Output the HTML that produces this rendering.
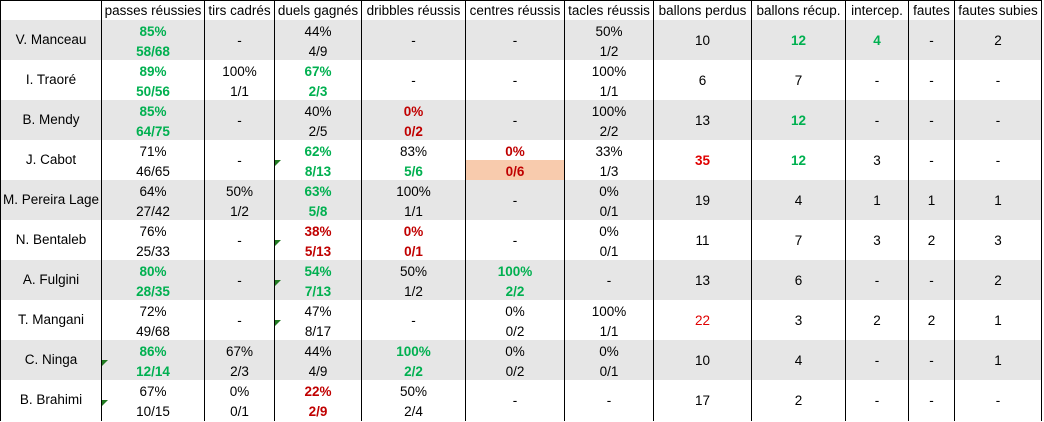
<!DOCTYPE html>
<html><head><meta charset="utf-8">
<style>
html,body{margin:0;padding:0;background:#fff;}
body{width:1044px;height:421px;position:relative;overflow:hidden;font-family:"Liberation Sans",Arial,sans-serif;font-size:13.5px;color:#000;}
.row{position:absolute;left:0;width:1042px;height:40px;}
.gr{background:#e6e6e6;}
.c{position:absolute;text-align:center;line-height:20px;height:20px;white-space:nowrap;}
.t1{top:2px}.t2{top:22px}.t0{top:11px}.tn{top:10px}
.c0{left:1px;width:100px}.c1{left:102px;width:102px}.c2{left:205px;width:69px}.c3{left:275px;width:86px}
.c4{left:362px;width:103px}.c5{left:466px;width:98px}.c6{left:565px;width:88px}.c7{left:654px;width:97px}
.c8{left:752px;width:93px}.c9{left:846px;width:62px}.c10{left:909px;width:45px}.c11{left:955px;width:86px}
.g{color:#00b050;font-weight:bold}
.r{color:#c00000;font-weight:bold}
.rr{color:#e00000;font-weight:bold}
.vl{position:absolute;top:0;width:1px;height:421px;background:#000;z-index:5}
.hl{position:absolute;left:0;top:0;width:1042px;height:1px;background:#000;z-index:5}
.tri{position:absolute;width:0;height:0;border-top:6px solid #217a21;border-right:6px solid transparent;z-index:6}
.or{position:absolute;left:466px;top:20px;width:98px;height:20px;background:#f8cbad}
.hd{position:absolute;top:0;left:0;width:1042px;height:20px;}
.hd .c{top:1px}
</style></head><body>

<div class="hd">
<div class="c c1">passes réussies</div>
<div class="c c2">tirs cadrés</div>
<div class="c c3">duels gagnés</div>
<div class="c c4">dribbles réussis</div>
<div class="c c5">centres réussis</div>
<div class="c c6">tacles réussis</div>
<div class="c c7">ballons perdus</div>
<div class="c c8">ballons récup.</div>
<div class="c c9">intercep.</div>
<div class="c c10">fautes</div>
<div class="c c11">fautes subies</div>
</div>

<!-- Row 1 -->
<div class="row gr" style="top:20px">
<div class="c c0 tn">V. Manceau</div>
<div class="c c1 t1 g">85%</div><div class="c c1 t2 g">58/68</div>
<div class="c c2 t0">-</div>
<div class="c c3 t1">44%</div><div class="c c3 t2">4/9</div>
<div class="c c4 t0">-</div>
<div class="c c5 t0">-</div>
<div class="c c6 t1">50%</div><div class="c c6 t2">1/2</div>
<div class="c c7 t0">10</div>
<div class="c c8 t0 g">12</div>
<div class="c c9 t0 g">4</div>
<div class="c c10 t0">-</div>
<div class="c c11 t0">2</div>
</div>

<!-- Row 2 -->
<div class="row" style="top:60px">
<div class="c c0 tn">I. Traoré</div>
<div class="c c1 t1 g">89%</div><div class="c c1 t2 g">50/56</div>
<div class="c c2 t1">100%</div><div class="c c2 t2">1/1</div>
<div class="c c3 t1 g">67%</div><div class="c c3 t2 g">2/3</div>
<div class="c c4 t0">-</div>
<div class="c c5 t0">-</div>
<div class="c c6 t1">100%</div><div class="c c6 t2">1/1</div>
<div class="c c7 t0">6</div>
<div class="c c8 t0">7</div>
<div class="c c9 t0">-</div>
<div class="c c10 t0">-</div>
<div class="c c11 t0">-</div>
</div>

<!-- Row 3 -->
<div class="row gr" style="top:100px">
<div class="c c0 tn">B. Mendy</div>
<div class="c c1 t1 g">85%</div><div class="c c1 t2 g">64/75</div>
<div class="c c2 t0">-</div>
<div class="c c3 t1">40%</div><div class="c c3 t2">2/5</div>
<div class="c c4 t1 r">0%</div><div class="c c4 t2 r">0/2</div>
<div class="c c5 t0">-</div>
<div class="c c6 t1">100%</div><div class="c c6 t2">2/2</div>
<div class="c c7 t0">13</div>
<div class="c c8 t0 g">12</div>
<div class="c c9 t0">-</div>
<div class="c c10 t0">-</div>
<div class="c c11 t0">-</div>
</div>

<!-- Row 4 -->
<div class="row" style="top:140px">
<div class="or"></div>
<div class="c c0 tn">J. Cabot</div>
<div class="c c1 t1">71%</div><div class="c c1 t2">46/65</div>
<div class="c c2 t0">-</div>
<div class="c c3 t1 g">62%</div><div class="c c3 t2 g">8/13</div>
<div class="c c4 t1">83%</div><div class="c c4 t2 g">5/6</div>
<div class="c c5 t1 r">0%</div><div class="c c5 t2 r">0/6</div>
<div class="c c6 t1">33%</div><div class="c c6 t2">1/3</div>
<div class="c c7 t0 rr">35</div>
<div class="c c8 t0 g">12</div>
<div class="c c9 t0">3</div>
<div class="c c10 t0">-</div>
<div class="c c11 t0">-</div>
</div>

<!-- Row 5 -->
<div class="row gr" style="top:180px">
<div class="c c0 tn">M. Pereira Lage</div>
<div class="c c1 t1">64%</div><div class="c c1 t2">27/42</div>
<div class="c c2 t1">50%</div><div class="c c2 t2">1/2</div>
<div class="c c3 t1 g">63%</div><div class="c c3 t2 g">5/8</div>
<div class="c c4 t1">100%</div><div class="c c4 t2">1/1</div>
<div class="c c5 t0">-</div>
<div class="c c6 t1">0%</div><div class="c c6 t2">0/1</div>
<div class="c c7 t0">19</div>
<div class="c c8 t0">4</div>
<div class="c c9 t0">1</div>
<div class="c c10 t0">1</div>
<div class="c c11 t0">1</div>
</div>

<!-- Row 6 -->
<div class="row" style="top:220px">
<div class="c c0 tn">N. Bentaleb</div>
<div class="c c1 t1">76%</div><div class="c c1 t2">25/33</div>
<div class="c c2 t0">-</div>
<div class="c c3 t1 r">38%</div><div class="c c3 t2 r">5/13</div>
<div class="c c4 t1 r">0%</div><div class="c c4 t2 r">0/1</div>
<div class="c c5 t0">-</div>
<div class="c c6 t1">0%</div><div class="c c6 t2">0/1</div>
<div class="c c7 t0">11</div>
<div class="c c8 t0">7</div>
<div class="c c9 t0">3</div>
<div class="c c10 t0">2</div>
<div class="c c11 t0">3</div>
</div>

<!-- Row 7 -->
<div class="row gr" style="top:260px">
<div class="c c0 tn">A. Fulgini</div>
<div class="c c1 t1 g">80%</div><div class="c c1 t2 g">28/35</div>
<div class="c c2 t0">-</div>
<div class="c c3 t1 g">54%</div><div class="c c3 t2 g">7/13</div>
<div class="c c4 t1">50%</div><div class="c c4 t2">1/2</div>
<div class="c c5 t1 g">100%</div><div class="c c5 t2 g">2/2</div>
<div class="c c6 t0">-</div>
<div class="c c7 t0">13</div>
<div class="c c8 t0">6</div>
<div class="c c9 t0">-</div>
<div class="c c10 t0">-</div>
<div class="c c11 t0">2</div>
</div>

<!-- Row 8 -->
<div class="row" style="top:300px">
<div class="c c0 tn">T. Mangani</div>
<div class="c c1 t1">72%</div><div class="c c1 t2">49/68</div>
<div class="c c2 t0">-</div>
<div class="c c3 t1">47%</div><div class="c c3 t2">8/17</div>
<div class="c c4 t0">-</div>
<div class="c c5 t1">0%</div><div class="c c5 t2">0/2</div>
<div class="c c6 t1">100%</div><div class="c c6 t2">1/1</div>
<div class="c c7 t0" style="color:#e00000">22</div>
<div class="c c8 t0">3</div>
<div class="c c9 t0">2</div>
<div class="c c10 t0">2</div>
<div class="c c11 t0">1</div>
</div>

<!-- Row 9 -->
<div class="row gr" style="top:340px">
<div class="c c0 tn">C. Ninga</div>
<div class="c c1 t1 g">86%</div><div class="c c1 t2 g">12/14</div>
<div class="c c2 t1">67%</div><div class="c c2 t2">2/3</div>
<div class="c c3 t1">44%</div><div class="c c3 t2">4/9</div>
<div class="c c4 t1 g">100%</div><div class="c c4 t2 g">2/2</div>
<div class="c c5 t1">0%</div><div class="c c5 t2">0/2</div>
<div class="c c6 t1">0%</div><div class="c c6 t2">0/1</div>
<div class="c c7 t0">10</div>
<div class="c c8 t0">4</div>
<div class="c c9 t0">-</div>
<div class="c c10 t0">-</div>
<div class="c c11 t0">1</div>
</div>

<!-- Row 10 -->
<div class="row" style="top:380px">
<div class="c c0 tn">B. Brahimi</div>
<div class="c c1 t1">67%</div><div class="c c1 t2">10/15</div>
<div class="c c2 t1">0%</div><div class="c c2 t2">0/1</div>
<div class="c c3 t1 r">22%</div><div class="c c3 t2 r">2/9</div>
<div class="c c4 t1">50%</div><div class="c c4 t2">2/4</div>
<div class="c c5 t0">-</div>
<div class="c c6 t0">-</div>
<div class="c c7 t0">17</div>
<div class="c c8 t0">2</div>
<div class="c c9 t0">-</div>
<div class="c c10 t0">-</div>
<div class="c c11 t0">-</div>
</div>

<!-- grid lines -->
<div class="hl"></div>
<div class="vl" style="left:0px"></div>
<div class="vl" style="left:101px"></div>
<div class="vl" style="left:204px"></div>
<div class="vl" style="left:274px"></div>
<div class="vl" style="left:361px"></div>
<div class="vl" style="left:465px"></div>
<div class="vl" style="left:564px"></div>
<div class="vl" style="left:653px"></div>
<div class="vl" style="left:751px"></div>
<div class="vl" style="left:845px"></div>
<div class="vl" style="left:908px"></div>
<div class="vl" style="left:954px"></div>
<div class="vl" style="left:1041px"></div>

<!-- green indicator triangles -->
<div class="tri" style="left:275px;top:160px"></div>
<div class="tri" style="left:275px;top:240px"></div>
<div class="tri" style="left:275px;top:280px"></div>
<div class="tri" style="left:275px;top:320px"></div>
<div class="tri" style="left:102px;top:360px"></div>
<div class="tri" style="left:102px;top:400px"></div>

</body></html>
